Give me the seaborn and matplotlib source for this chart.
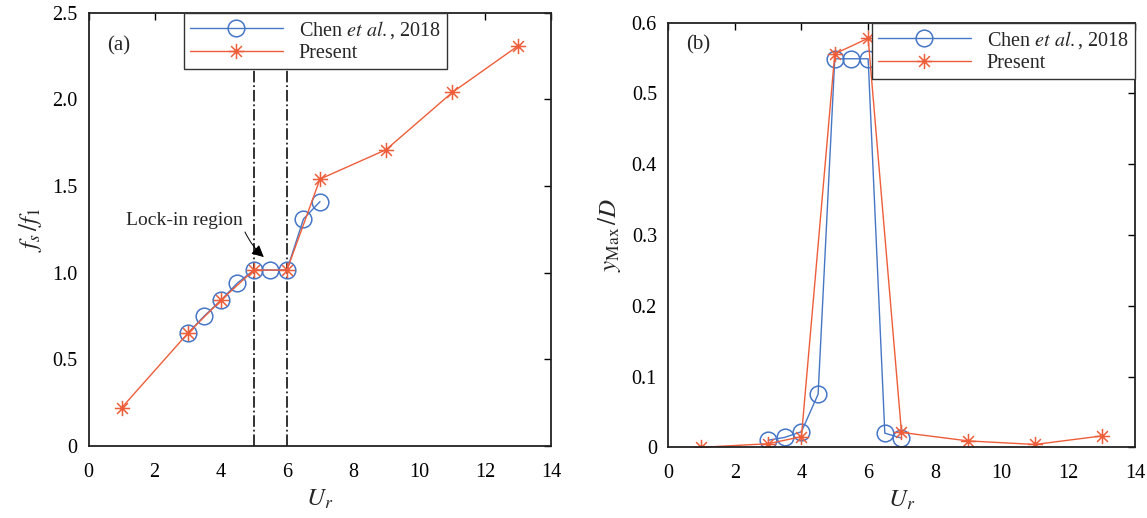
import numpy as np
import matplotlib
matplotlib.use("Agg")
import matplotlib.pyplot as plt
from matplotlib.path import Path
import pandas as pd
import seaborn as sns

# (a) frequency ratio f_s/f_1 versus reduced velocity
chen_a_ur = [3.0, 3.5, 4.0, 4.5, 5.0, 5.5, 6.0, 6.5, 7.0]
chen_a_f = [0.65, 0.75, 0.84, 0.94, 1.015, 1.015, 1.015, 1.31, 1.41]
pres_a_ur = [1, 3, 4, 5, 6, 7, 9, 11, 13]
pres_a_f = [0.22, 0.65, 0.84, 1.015, 1.015, 1.54, 1.71, 2.04, 2.31]

# (b) maximum transverse amplitude y_Max/D versus reduced velocity
chen_b_ur = [3.0, 3.5, 4.0, 4.5, 5.0, 5.5, 6.0, 6.5, 7.0]
chen_b_y = [0.010, 0.014, 0.022, 0.075, 0.549, 0.549, 0.549, 0.020, 0.013]
pres_b_ur = [1, 3, 4, 5, 6, 7, 9, 11, 13]
pres_b_y = [0.0, 0.005, 0.015, 0.556, 0.578, 0.021, 0.009, 0.004, 0.016]

lock_in_bounds = [5, 6]
x_ticks = [0, 2, 4, 6, 8, 10, 12, 14]
a_yticks = [0, 0.5, 1.0, 1.5, 2.0, 2.5]
a_yticklabels = ["0", "0.5", "1.0", "1.5", "2.0", "2.5"]
b_yticks = [0, 0.1, 0.2, 0.3, 0.4, 0.5, 0.6]
b_yticklabels = ["0", "0.1", "0.2", "0.3", "0.4", "0.5", "0.6"]

sns.set_style("white")
plt.rcParams["font.family"] = ["Liberation Serif", "DejaVu Serif"]
plt.rcParams["mathtext.fontset"] = "stix"

BLUE = "#4676c6"
RED = "#ee5d3a"

# asterisk marker built from four crossing strokes
s = np.sqrt(0.5)
ast_verts = [(-1, 0), (1, 0), (0, -1), (0, 1), (-s, -s), (s, s), (-s, s), (s, -s)]
ast_codes = [Path.MOVETO, Path.LINETO] * 4
ASTERISK = Path(ast_verts, ast_codes)

fig = plt.figure(figsize=(11.47, 5.18), dpi=100)
ax_a = fig.add_axes([0.0772, 0.139, 0.4036, 0.8365])
ax_b = fig.add_axes([0.5824, 0.1365, 0.4071, 0.8197])


def draw_series(ax, x, y, color, marker, ms, label):
    df = pd.DataFrame({"x": x, "y": y})
    sns.lineplot(data=df, x="x", y="y", ax=ax, color=color, lw=1.0,
                 marker=marker, markersize=ms, markerfacecolor="none",
                 markeredgecolor=color, markeredgewidth=1.1,
                 sort=False, estimator=None, label=label)


def style_legend(ax, loc, anchor):
    leg = ax.legend(loc=loc, bbox_to_anchor=anchor,
                    fontsize=14.5, frameon=True, fancybox=False, framealpha=1,
                    edgecolor="#333333", handlelength=4.6, handletextpad=0.8,
                    borderpad=0.3, labelspacing=0.15, borderaxespad=0)
    leg.get_frame().set_linewidth(1.0)
    return leg


label_chen = r"Chen $et$ $al.$, 2018"

# panel (a)
for xv in lock_in_bounds:
    ax_a.axvline(xv, color="#222222", lw=1.3, ls="-.", zorder=1)
draw_series(ax_a, chen_a_ur, chen_a_f, BLUE, "o", 12, label_chen)
draw_series(ax_a, pres_a_ur, pres_a_f, RED, ASTERISK, 11, "Present")
ax_a.set_xlim(0, 14)
ax_a.set_ylim(0, 2.5)
ax_a.set_yticks(a_yticks)
ax_a.set_yticklabels(a_yticklabels)
ax_a.set_ylabel(r"$f_s\,/f_1$", fontsize=18, labelpad=6)
ax_a.text(0.55, 2.31, "(a)", fontsize=15, va="center")
ax_a.text(4.67, 1.30, "Lock-in region", ha="right", va="center", fontsize=14)
ax_a.annotate("", xy=(5.3, 1.09), xytext=(4.73, 1.235),
              arrowprops=dict(arrowstyle="-|>", color="black", lw=0.7,
                              mutation_scale=18,
                              connectionstyle="arc3,rad=0.1",
                              shrinkA=0, shrinkB=0))
style_legend(ax_a, "upper center", (0.49, 1.0))

# panel (b)
draw_series(ax_b, chen_b_ur, chen_b_y, BLUE, "o", 12, label_chen)
draw_series(ax_b, pres_b_ur, pres_b_y, RED, ASTERISK, 11, "Present")
ax_b.set_xlim(0, 14)
ax_b.set_ylim(0, 0.6)
ax_b.set_yticks(b_yticks)
ax_b.set_yticklabels(b_yticklabels)
ax_b.set_ylabel(r"$y_{\mathrm{Max}}\,/D$", fontsize=18, labelpad=6)
ax_b.text(0.55, 0.569, "(b)", fontsize=15, va="center")
style_legend(ax_b, "upper right", (1.0, 1.0))

for ax in (ax_a, ax_b):
    ax.set_xticks(x_ticks)
    ax.set_xlabel(r"$U_r$", fontsize=18, labelpad=4)
    ax.tick_params(direction="in", length=5, width=1, top=True, right=True,
                   labelsize=14.5, colors="black")
    ax.tick_params(axis="x", pad=12)
    ax.tick_params(axis="y", pad=8)
    for sp in ax.spines.values():
        sp.set_visible(True)
        sp.set_color("#222222")
        sp.set_linewidth(1.3)

fig.savefig("out.png", dpi=100)
